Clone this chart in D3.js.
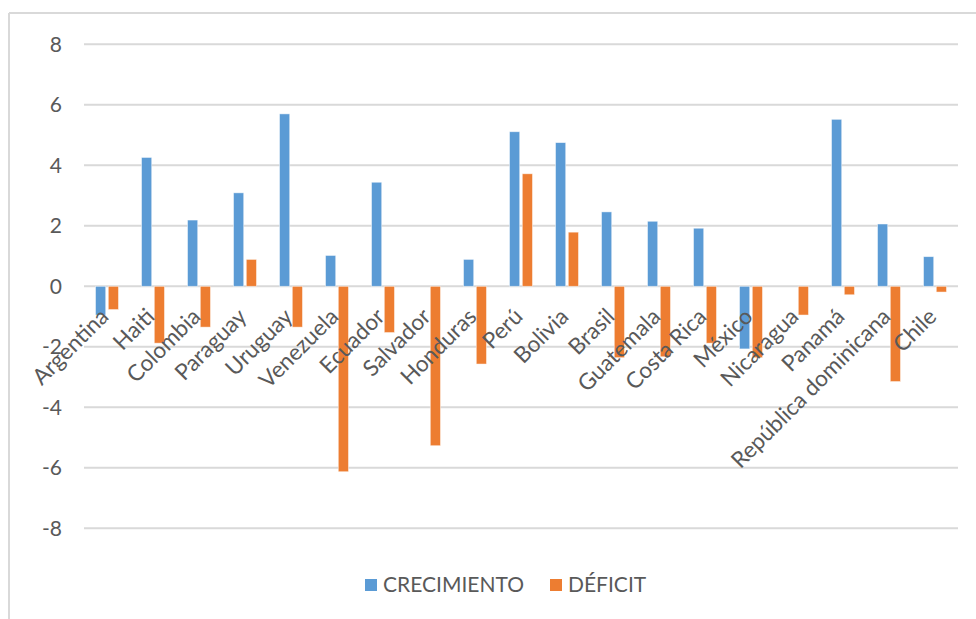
<!DOCTYPE html>
<html>
<head>
<meta charset="utf-8">
<script src="https://cdn.jsdelivr.net/npm/d3@7"></script>
<style>
  html, body { margin: 0; padding: 0; background: #ffffff; }
  svg { display: block; }
  text { font-family: Lato, "Open Sans", sans-serif; fill: #595959; }
</style>
</head>
<body>
<svg id="chart" width="976" height="619"></svg>
<script>
const categories = ["Argentina","Haiti","Colombia","Paraguay","Uruguay","Venezuela","Ecuador","Salvador","Honduras","Perú","Bolivia","Brasil","Guatemala","Costa Rica","México","Nicaragua","Panamá","República dominicana","Chile"];
const crecimiento = [-0.95, 4.26, 2.19, 3.09, 5.70, 1.02, 3.44, 0, 0.89, 5.11, 4.75, 2.46, 2.15, 1.92, -2.07, 0, 5.52, 2.06, 0.98];
const deficit = [-0.77, -1.88, -1.35, 0.89, -1.35, -6.13, -1.53, -5.27, -2.57, 3.72, 1.79, -2.36, -2.33, -1.88, -2.36, -0.95, -0.28, -3.15, -0.19];
const seriesNames = ["CRECIMIENTO", "DÉFICIT"];
const seriesColors = ["#5B9BD5", "#ED7D31"];
const yTicks = [-8, -6, -4, -2, 0, 2, 4, 6, 8];

const svg = d3.select("#chart");

// chart border (top and left edges visible)
svg.append("line").attr("x1", 9).attr("x2", 976).attr("y1", 13).attr("y2", 13)
  .attr("stroke", "#d9d9d9").attr("stroke-width", 2);
svg.append("line").attr("x1", 9).attr("x2", 9).attr("y1", 13).attr("y2", 619)
  .attr("stroke", "#d9d9d9").attr("stroke-width", 2);

const left = 84, right = 958;
const y = d3.scaleLinear().domain([-8, 8]).range([528.3, 44.3]);
const x0 = d3.scaleBand().domain(categories).range([left, right]).paddingInner(0).paddingOuter(0);
const groupW = 23;
const x1 = d3.scaleBand().domain(seriesNames).range([0, groupW]).paddingInner(0.2).paddingOuter(0);

// gridlines
svg.append("g").selectAll("line").data(yTicks).join("line")
  .attr("x1", left).attr("x2", right)
  .attr("y1", d => y(d)).attr("y2", d => y(d))
  .attr("stroke", "#d9d9d9").attr("stroke-width", 2);

// y labels
svg.append("g").selectAll("text").data(yTicks).join("text")
  .attr("x", 62).attr("y", d => y(d))
  .attr("dy", "0.35em")
  .attr("text-anchor", "end")
  .attr("font-size", 21)
  .text(d => d);

// bars
const data = categories.map((c, i) => ({ c, vals: [crecimiento[i], deficit[i]] }));
const groups = svg.append("g").selectAll("g").data(data).join("g")
  .attr("transform", d => `translate(${x0(d.c) + (x0.bandwidth() - groupW) / 2},0)`);
groups.selectAll("rect").data(d => d.vals.map((v, k) => ({ v, k })))
  .join("rect")
  .attr("x", d => x1(seriesNames[d.k]))
  .attr("width", x1.bandwidth())
  .attr("y", d => y(Math.max(0, d.v)))
  .attr("height", d => Math.abs(y(d.v) - y(0)))
  .attr("fill", d => seriesColors[d.k])
  .attr("stroke", "#ffffff").attr("stroke-opacity", 0.6).attr("stroke-width", 0.8);

// category labels
svg.append("g").selectAll("text").data(categories).join("text")
  .attr("transform", d => `translate(${x0(d) + x0.bandwidth() / 2 + 3},${318}) rotate(-45)`)
  .attr("text-anchor", "end")
  .attr("font-size", 22.5)
  .text(d => d);

// legend
const legend = [
  { name: seriesNames[0], color: seriesColors[0], sx: 365, tx: 383 },
  { name: seriesNames[1], color: seriesColors[1], sx: 550, tx: 568 }
];
const lg = svg.append("g");
lg.selectAll("rect").data(legend).join("rect")
  .attr("x", d => d.sx).attr("y", 579).attr("width", 12).attr("height", 12)
  .attr("fill", d => d.color);
lg.selectAll("text").data(legend).join("text")
  .attr("x", d => d.tx).attr("y", 592)
  .attr("font-size", 21)
  .text(d => d.name);
</script>
</body>
</html>
